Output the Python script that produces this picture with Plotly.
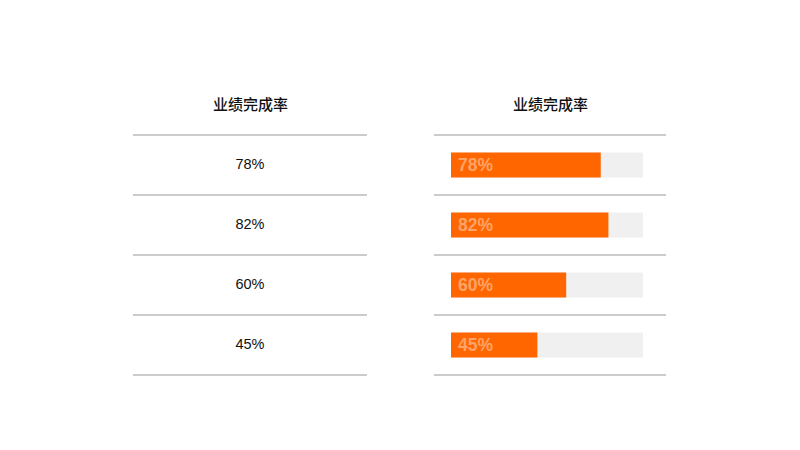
import plotly.graph_objects as go

header = "业绩完成率"
values = [78, 82, 60, 45]
labels = ["78%", "82%", "60%", "45%"]
rows = [0, 1, 2, 3]

ORANGE = "#FF6600"
TRACK = "#F0F0F0"
LINE = "#BBBBBB"
FONT = "Noto Sans CJK SC"

fig = go.Figure()

# track bars (right table)
fig.add_trace(go.Bar(
    y=rows, x=[1] * len(values), orientation="h",
    marker=dict(color=TRACK, line=dict(width=0)),
    width=0.42, xaxis="x", yaxis="y", hoverinfo="skip", showlegend=False,
))
# value bars
fig.add_trace(go.Bar(
    y=rows, x=[v / 100 for v in values], orientation="h",
    marker=dict(color=ORANGE, line=dict(width=0)),
    width=0.42, xaxis="x", yaxis="y", showlegend=False,
))
# left table text
fig.add_trace(go.Scatter(
    x=[0.5] * len(values), y=rows, mode="text", text=labels,
    textfont=dict(family="Liberation Sans, Arial, sans-serif", size=14.5, color="#111111"),
    xaxis="x2", yaxis="y", showlegend=False, hoverinfo="skip",
))

layout_shapes = []
for r in range(len(values) + 1):
    for x0, x1 in [(133 / 800, 367 / 800), (434 / 800, 666 / 800)]:
        layout_shapes.append(dict(
            type="line", xref="paper", yref="y", x0=x0, x1=x1, y0=r - 0.5, y1=r - 0.5,
            line=dict(color=LINE, width=1.5),
        ))

annotations = []
for cx in [250 / 800, 550 / 800]:
    annotations.append(dict(
        xref="paper", yref="y", x=cx, y=-1.02, text=header, showarrow=False,
        xanchor="center", yanchor="middle",
        font=dict(family=FONT, size=15, color="#111111", weight=500),
    ))
for r, lab in zip(rows, labels):
    annotations.append(dict(
        xref="x", yref="y", x=0, y=r, text=lab, showarrow=False,
        xanchor="left", yanchor="middle", xshift=5,
        font=dict(family="Liberation Sans, Arial, sans-serif", size=17.5,
                  color="#FFA468", weight="bold"),
    ))

fig.update_layout(
    width=800, height=450,
    margin=dict(l=0, r=0, t=0, b=0),
    paper_bgcolor="white", plot_bgcolor="white",
    barmode="overlay",
    xaxis=dict(domain=[451 / 800, 643 / 800], range=[0, 1], visible=False, fixedrange=True),
    xaxis2=dict(domain=[133 / 800, 367 / 800], range=[0, 1], visible=False, anchor="y"),
    yaxis=dict(domain=[0, 1], range=[4.75, -2.75], visible=False),
    shapes=layout_shapes,
    annotations=annotations,
)

fig.write_html("out.html", config={"displayModeBar": False},
               post_script="document.body.style.margin='0px';document.body.style.overflow='hidden';")
